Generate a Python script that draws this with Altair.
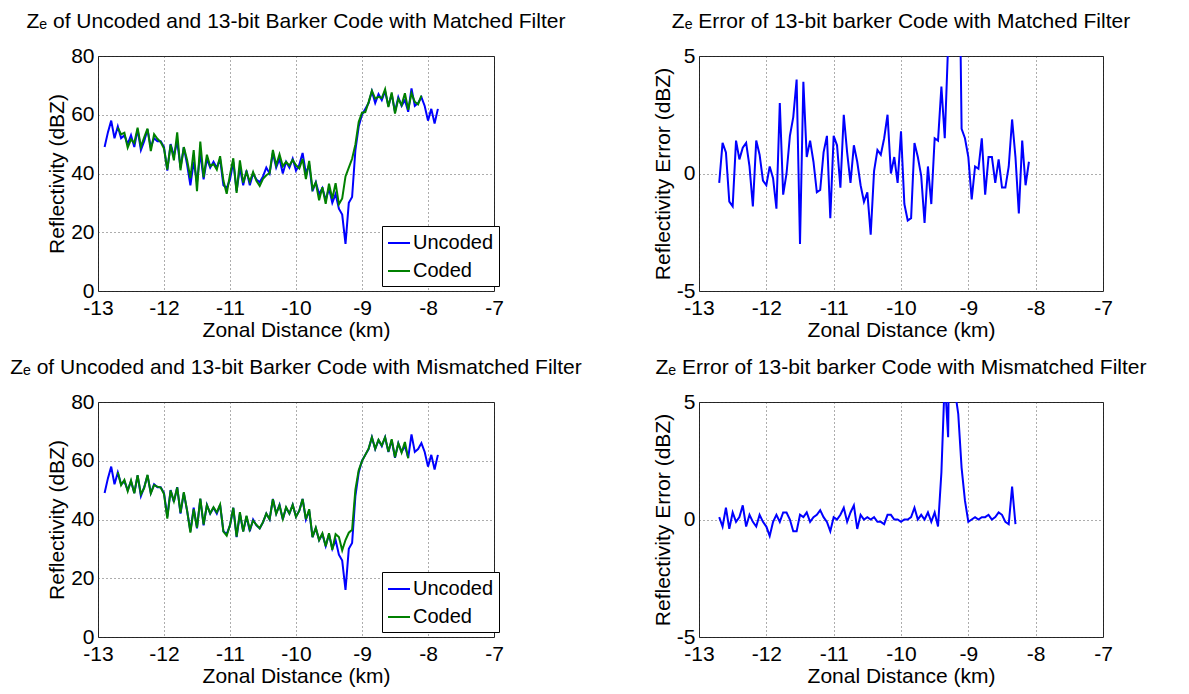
import altair as alt
import pandas as pd

FONT = "Liberation Sans"

# sampling of the range profile (km)
X0 = -12.90
STEP = 0.05
# uncoded reflectivity (dBZ), x = -12.90 ... -7.85
uncoded = [49, 54, 58, 52, 56, 52, 53, 50, 53, 49,
           55, 48, 51, 55, 49, 52, 51, 51, 49, 41,
           50, 46, 51, 42, 49, 43, 36, 44, 37, 47,
           38, 45, 42, 44, 42, 45, 36, 35, 38, 44,
           34, 42, 36, 41, 36, 40, 38, 37, 39, 42,
           40, 47, 42, 45, 40, 44, 42, 45, 41, 43,
           47, 40, 43, 34, 37, 33, 35, 31, 35, 30,
           33, 28, 26, 16, 30, 32, 48, 56, 60, 62,
           64, 68, 64, 67, 65, 68, 63, 67, 61, 66,
           63, 65, 61, 69, 63, 64, 66, 63, 58, 62,
           57, 62]

# error (coded - uncoded, dBZ), x = -12.70 ...
ERR_X0 = -12.70
err_matched = [-0.4, 1.3, 0.9, -1.2, -1.4, 1.4, 0.6, 1.1, 1.3, 0.3,
               -1.4, 1.4, 0.8, -0.3, -0.5, 0.3, -0.2, -1.5, 3.0, -0.9,
               0.0, 1.6, 2.4, 4.0, -3.0, 3.9, 0.7, 1.4, 0.5, -0.8,
               -0.7, 0.9, 1.6, -1.9, 1.6, 1.2, -0.6, 2.5, 0.9, -0.4,
               1.2, 0.5, -0.5, -1.2, -0.8, -2.6, 0.1, 1.0, 0.8, 1.5,
               2.5, 0.0, 0.7, -0.4, 1.8, -1.3, -2.0, -1.9, 1.3, 0.7,
               -0.1, -2.1, 0.3, -1.3, 1.5, 1.4, 3.7, 1.5, 5.5, 23.0,
               12.0, 13.0, 1.9, 1.5, 0.7, -1.1, 0.3, 0.2, 1.5, -0.9,
               0.7, 0.7, -0.4, 0.6, -0.6, -0.6, 0.3, 2.3, 0.7, -1.7,
               1.4, -0.5, 0.5]
err_mismatched = [0.1, -0.3, 0.5, -0.4, 0.3, -0.1, 0.1, 0.6, -0.3, 0.2,
                  -0.1, -0.3, 0.2, -0.1, -0.3, -0.7, -0.1, 0.2, -0.1, 0.3,
                  0.3, 0.0, -0.5, -0.5, 0.2, 0.1, 0.3, -0.1, 0.1, 0.2,
                  0.4, 0.1, -0.1, -0.5, 0.1, 0.0, 0.2, 0.5, -0.1, 0.3,
                  0.6, -0.4, 0.2, 0.0, 0.1, 0.0, 0.1, -0.1, -0.1, -0.2,
                  0.2, 0.2, 0.0, 0.0, -0.1, 0.0, 0.0, 0.1, 0.5, 0.0,
                  0.2, 0.0, 0.3, -0.1, 0.3, -0.3, 2.0, 6.0, 3.5, 17.0,
                  5.5, 4.5, 2.2, 0.8, -0.1, 0.0, 0.1, 0.0, 0.1, 0.1,
                  0.2, 0.0, 0.1, 0.3, 0.2, -0.1, -0.2, 1.4, -0.2]

x_ticks = [-13, -12, -11, -10, -9, -8, -7]
refl_ticks = [0, 20, 40, 60, 80]
err_ticks = [-5, 0, 5]
series_names = ["Uncoded", "Coded"]
series_colors = ["#0000ff", "#008000"]

titles = [
    "Zₑ of Uncoded and 13-bit Barker Code with Matched Filter",
    "Zₑ Error of 13-bit barker Code with Matched Filter",
    "Zₑ of Uncoded and 13-bit Barker Code with Mismatched Filter",
    "Zₑ Error of 13-bit barker Code with Mismatched Filter",
]

LABEL_EXPR = "'' + datum.value"


def grid_x(x0, n):
    return [round(x0 + STEP * i, 3) for i in range(n)]


ux = grid_x(X0, len(uncoded))
OFF = round((ERR_X0 - X0) / STEP)


def coded_from(err):
    return [uncoded[OFF + i] + e for i, e in enumerate(err)]


def mk_title(t):
    return alt.Title(t, font=FONT, fontSize=21, fontWeight="normal",
                     color="black", anchor="middle", frame="group", offset=13)


xenc = alt.X("x:Q", scale=alt.Scale(domain=[-13, -7], nice=False, zero=False),
             axis=alt.Axis(values=x_ticks, title="Zonal Distance (km)", labelExpr=LABEL_EXPR))


def refl_panel(err, title):
    df_u = pd.DataFrame({"x": ux, "v": uncoded, "s": "Uncoded"})
    df_c = pd.DataFrame({"x": grid_x(ERR_X0, len(err)), "v": coded_from(err), "s": "Coded"})
    yenc = alt.Y("v:Q", scale=alt.Scale(domain=[0, 80], nice=False),
                 axis=alt.Axis(values=refl_ticks, title="Reflectivity (dBZ)",
                               labelExpr=LABEL_EXPR))
    color = alt.Color("s:N", scale=alt.Scale(domain=series_names, range=series_colors),
                      legend=alt.Legend(title=None, orient="none", legendX=284, legendY=170,
                                        symbolType="stroke", symbolSize=484,
                                        symbolStrokeWidth=2, labelFontSize=20,
                                        labelFont=FONT, labelColor="black",
                                        fillColor="white", strokeColor="black",
                                        padding=5, rowPadding=6, labelOffset=2))
    l1 = alt.Chart(df_u).mark_line(strokeWidth=2, clip=True).encode(x=xenc, y=yenc, color=color)
    l2 = alt.Chart(df_c).mark_line(strokeWidth=2, clip=True).encode(x=xenc, y=yenc, color=color)
    return alt.layer(l1, l2).properties(width=396, height=235, title=mk_title(title))


def err_panel(err, title):
    df = pd.DataFrame({"x": grid_x(ERR_X0, len(err)), "v": err})
    yenc = alt.Y("v:Q", scale=alt.Scale(domain=[-5, 5], nice=False),
                 axis=alt.Axis(values=err_ticks, title="Reflectivity Error (dBZ)",
                               labelExpr=LABEL_EXPR))
    return alt.Chart(df).mark_line(strokeWidth=2, clip=True, color="#0000ff").encode(
        x=xenc, y=yenc).properties(width=404, height=235, title=mk_title(title))


p1 = refl_panel(err_matched, titles[0])
p2 = err_panel(err_matched, titles[1])
p3 = refl_panel(err_mismatched, titles[2])
p4 = err_panel(err_mismatched, titles[3])

chart = alt.concat(p1, p2, p3, p4, columns=2, spacing={"row": 111, "column": 205},
                   bounds="flush").resolve_scale(color="independent").properties(
    padding={"left": 1, "top": 2, "right": 5, "bottom": 5})

chart = chart.configure(background="white").configure_view(
    stroke="#222222", strokeWidth=1).configure_axis(
    labelFont=FONT, labelFontSize=21, labelColor="black",
    titleFont=FONT, titleFontSize=21, titleFontWeight="normal", titleColor="black",
    grid=True, gridDash=[1, 3], gridColor="#333333", gridOpacity=0.8,
    domain=False, ticks=False, labelFlush=False,
).configure_axisY(titlePadding=3, labelPadding=4).configure_axisX(
    titlePadding=1, labelPadding=6)

chart.save("out.html", embed_options={"renderer": "svg", "actions": False})
